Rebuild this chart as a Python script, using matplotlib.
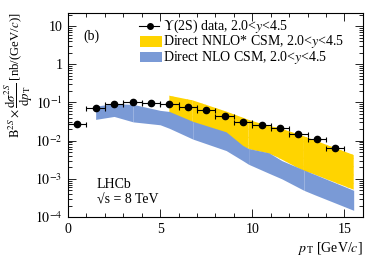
import matplotlib
matplotlib.use("Agg")
import matplotlib.pyplot as plt
import numpy as np
from matplotlib.ticker import FixedLocator, FixedFormatter, LogLocator, NullFormatter, MultipleLocator
from matplotlib.patches import Rectangle
from matplotlib.lines import Line2D

plt.rcParams['font.family'] = ['Liberation Serif', 'DejaVu Serif']
plt.rcParams['mathtext.fontset'] = 'stix'

# data
pt_centers = [0.5, 1.5, 2.5, 3.5, 4.5, 5.5, 6.5, 7.5, 8.5, 9.5, 10.5, 11.5, 12.5, 13.5, 14.5]
xsec = [0.027, 0.070, 0.093, 0.105, 0.094, 0.092, 0.075, 0.062, 0.044, 0.031, 0.025, 0.022, 0.0146, 0.0112, 0.0066]
yerr = [0.002, 0.004, 0.004, 0.004, 0.004, 0.004, 0.003, 0.003, 0.002, 0.002, 0.0015, 0.0013, 0.001, 0.0008, 0.0006]
xerr = [0.5] * 15

# Direct NLO CSM band
nlo_pt = [1.5, 2.5, 3.53, 5.0, 5.5, 6.77, 8.58, 9.48, 9.8, 10.9, 11.6, 12.8, 13.4, 15.5]
nlo_hi = [0.080, 0.093, 0.089, 0.062, 0.058, 0.032, 0.017, 0.0075, 0.0062, 0.0048, 0.0030, 0.0017, 0.0013, 0.00050]
nlo_lo = [0.036, 0.043, 0.031, 0.026, 0.021, 0.011, 0.0055, 0.0030, 0.0024, 0.0014, 0.0010, 0.00050, 0.00038, 0.00015]

# Direct NNLO* CSM band
nnlo_pt = [5.5, 6.77, 8.58, 9.48, 9.8, 10.9, 11.4, 12.8, 13.2, 15.5]
nnlo_hi = [0.15, 0.113, 0.058, 0.040, 0.035, 0.024, 0.022, 0.013, 0.011, 0.0042]
nnlo_lo = [0.050, 0.030, 0.016, 0.0070, 0.0060, 0.0046, 0.0036, 0.0016, 0.0014, 0.00052]

legend_labels = [r'$\Upsilon$(2S) data, 2.0<$y$<4.5',
                 'Direct NNLO* CSM, 2.0<$y$<4.5',
                 'Direct NLO CSM, 2.0<$y$<4.5']

seams = [3.53, 6.77, 9.8, 12.8]

fig = plt.figure(figsize=(3.82, 2.59), dpi=100)
ax = fig.add_axes([0.178, 0.162, 0.772, 0.788])

yellow = '#FFD400'
blue = '#7A9AD6'
FS = 10

def seg_fill(xs, lo, hi, color, z, hatch=None):
    xs = np.asarray(xs); lo = np.asarray(lo); hi = np.asarray(hi)
    bounds = [xs[0]] + [s for s in seams if xs[0] < s < xs[-1]] + [xs[-1]]
    for a, b in zip(bounds[:-1], bounds[1:]):
        m = (xs >= a - 1e-9) & (xs <= b + 1e-9)
        ax.fill_between(xs[m], lo[m], hi[m], color=color, lw=0, zorder=z, hatch=hatch)

plt.rcParams['hatch.color'] = '#FFE766'
plt.rcParams['hatch.linewidth'] = 0.5
seg_fill(nnlo_pt, nnlo_lo, nnlo_hi, yellow, 2, hatch='....')
seg_fill(nlo_pt, nlo_lo, nlo_hi, blue, 3)

ax.errorbar(pt_centers, xsec, yerr=yerr, xerr=xerr, fmt='o', color='black',
            ms=4.5, elinewidth=0.8, capsize=1.8, capthick=0.8, zorder=5)

ax.set_yscale('log')
ax.set_xlim(0, 16)
ax.set_ylim(1e-4, 22)

# legend (drawn in axes-fraction coordinates)
T = ax.transAxes
row_y = [0.936, 0.858, 0.782]
ax.add_line(Line2D([0.241, 0.308], [row_y[0], row_y[0]], transform=T, color='black', lw=0.8))
ax.add_line(Line2D([0.278], [row_y[0]], transform=T, color='black', marker='o', ms=4.0))
ax.add_patch(Rectangle((0.244, 0.833), 0.075, 0.054, transform=T, facecolor=yellow,
                       edgecolor='none', hatch='....'))
ax.add_patch(Rectangle((0.244, 0.758), 0.075, 0.052, transform=T, facecolor=blue, edgecolor='none'))
for yy, lab in zip(row_y, legend_labels):
    ax.text(0.322, yy, lab, transform=T, fontsize=FS, va='center', ha='left')

ax.text(0.85, 5.5, '(b)', fontsize=FS, va='center')
ax.text(1.55, 6.9e-4, 'LHCb', fontsize=FS, va='center')
ax.text(1.55, 2.8e-4, '√s = 8 TeV', fontsize=FS, va='center')

ax.set_ylabel(r'$\mathrm{B}^{2S}\times\dfrac{\mathrm{d}\sigma^{2S}}{\mathrm{d}p_{\,\mathrm{T}}}$ [nb/(GeV/$c$)]',
              fontsize=9.2, loc='top', labelpad=0)
ax.set_xlabel(r'$p_{\,\mathrm{T}}$ [GeV/$c$]', fontsize=FS, loc='right', labelpad=3)

ax.xaxis.set_major_locator(MultipleLocator(5))
ax.xaxis.set_minor_locator(MultipleLocator(1))
ax.yaxis.set_major_locator(FixedLocator([1e-4, 1e-3, 1e-2, 1e-1, 1, 10]))
ax.yaxis.set_major_formatter(FixedFormatter([r'$10^{-4}$', r'$10^{-3}$', r'$10^{-2}$', r'$10^{-1}$', '1', '10']))
ax.yaxis.set_minor_locator(LogLocator(base=10, subs=np.arange(2, 10)))
ax.yaxis.set_minor_formatter(NullFormatter())
ax.tick_params(which='both', direction='in', top=True, right=True, labelsize=FS, width=0.6)
ax.tick_params(which='major', length=6, pad=4)
ax.tick_params(which='minor', length=3)
for s in ax.spines.values():
    s.set_linewidth(0.8)

fig.savefig('out.png', dpi=100)
